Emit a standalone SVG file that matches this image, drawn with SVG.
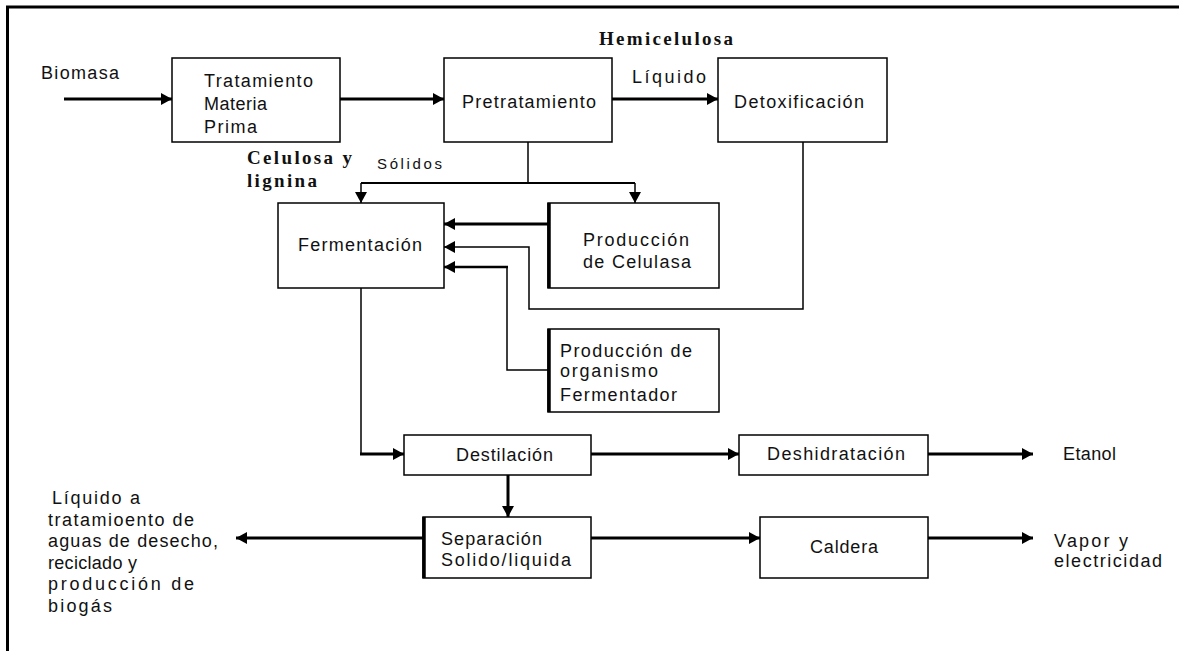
<svg xmlns="http://www.w3.org/2000/svg" width="1179" height="651" viewBox="0 0 1179 651">
<style>
.box{fill:#fff;stroke:#000;stroke-width:1.5}
.t{font-family:"Liberation Sans",Arial,sans-serif;font-size:18px;fill:#111}
.b{font-family:"Liberation Serif","Times New Roman",serif;font-size:19px;font-weight:bold;fill:#111}
.thick{fill:none;stroke:#000;stroke-width:3}
.thin{fill:none;stroke:#000;stroke-width:1.5}
.edge{stroke:#000;stroke-width:3.5}
</style>
<defs>
<marker id="ah" markerUnits="userSpaceOnUse" markerWidth="12" markerHeight="12" refX="11" refY="6" orient="auto">
<path d="M0,0 L11,6 L0,12 z" fill="#000"/>
</marker>
</defs>
<rect width="1179" height="651" fill="#fff"/>
<g id="frame">
<line x1="6" y1="7" x2="1179" y2="7" stroke="#000" stroke-width="3"/>
<line x1="7.5" y1="6" x2="7.5" y2="651" stroke="#000" stroke-width="3"/>
</g>
<g id="connectors">
<line class="thick" x1="64" y1="99" x2="172" y2="99" marker-end="url(#ah)"/>
<line class="thick" x1="340" y1="99" x2="444" y2="99" marker-end="url(#ah)"/>
<line class="thick" x1="612" y1="99" x2="718" y2="99" marker-end="url(#ah)"/>
<line class="thin" x1="528" y1="142" x2="528" y2="183"/>
<line class="thin" x1="361" y1="183" x2="635" y2="183" style="stroke-width:2"/>
<line class="thin" x1="361" y1="183" x2="361" y2="203" marker-end="url(#ah)"/>
<line class="thin" x1="635" y1="183" x2="635" y2="203" marker-end="url(#ah)"/>
<line class="thick" x1="548" y1="224" x2="444" y2="224" marker-end="url(#ah)"/>
<polyline class="thin" points="803,142 803,309 529,309 529,247 444,247" marker-end="url(#ah)"/>
<polyline class="thin" points="548,370 507,370 507,267 470,267"/>
<line class="thick" x1="508" y1="267" x2="444" y2="267" style="stroke-width:2.5" marker-end="url(#ah)"/>
<line class="thin" x1="361" y1="288" x2="361" y2="454"/>
<line class="thick" x1="360" y1="454" x2="404" y2="454" marker-end="url(#ah)"/>
<line class="thick" x1="591" y1="454" x2="739" y2="454" marker-end="url(#ah)"/>
<line class="thick" x1="928" y1="454" x2="1033" y2="454" marker-end="url(#ah)"/>
<line class="thick" x1="508" y1="475" x2="508" y2="517" marker-end="url(#ah)"/>
<line class="thick" x1="423" y1="538" x2="236" y2="538" marker-end="url(#ah)"/>
<line class="thick" x1="591" y1="538" x2="760" y2="538" marker-end="url(#ah)"/>
<line class="thick" x1="928" y1="538" x2="1033" y2="538" marker-end="url(#ah)"/>
</g>
<g id="labels">
<text class="t" x="41" y="79" textLength="78">Biomasa</text>
<text class="b" x="599" y="45" textLength="134">Hemicelulosa</text>
<text class="t" x="632" y="83" textLength="74">Líquido</text>
<text class="b" x="247" y="164" textLength="105">Celulosa y</text>
<text class="b" x="247" y="187" textLength="70">lignina</text>
<text class="t" x="377" y="169" textLength="65" style="font-size:15px">Sólidos</text>
<text class="t" x="1063" y="460" textLength="53">Etanol</text>
<text class="t" x="1054" y="547" textLength="74">Vapor y</text>
<text class="t" x="1054" y="567" textLength="108">electricidad</text>
<text class="t" x="52" y="504" textLength="88">Líquido a</text>
<text class="t" x="48" y="525.6" textLength="146">tratamioento de</text>
<text class="t" x="48" y="547" textLength="170">aguas de desecho,</text>
<text class="t" x="48" y="568.8" textLength="89">reciclado y</text>
<text class="t" x="48" y="590.4" textLength="146">producción de</text>
<text class="t" x="48" y="612" textLength="64">biogás</text>
</g>
<g id="tratamiento">
<rect class="box" x="172" y="58" width="168" height="84"/>
<text class="t" x="204" y="87" textLength="109">Tratamiento</text>
<text class="t" x="204" y="110" textLength="63">Materia</text>
<text class="t" x="204" y="133" textLength="53">Prima</text>
</g>
<g id="pretratamiento">
<rect class="box" x="444" y="58" width="168" height="84"/>
<text class="t" x="462" y="108" textLength="134">Pretratamiento</text>
</g>
<g id="detoxificacion">
<rect class="box" x="718" y="58" width="169" height="84"/>
<text class="t" x="734" y="108" textLength="130">Detoxificación</text>
</g>
<g id="fermentacion">
<rect class="box" x="278" y="203" width="166" height="85"/>
<text class="t" x="298" y="251" textLength="124">Fermentación</text>
</g>
<g id="celulasa">
<rect class="box" x="548" y="203" width="171" height="85"/>
<line class="edge" x1="549" y1="203" x2="549" y2="288"/>
<text class="t" x="583" y="246" textLength="106">Producción</text>
<text class="t" x="583" y="268" textLength="108">de Celulasa</text>
</g>
<g id="organismo">
<rect class="box" x="548" y="329" width="171" height="83"/>
<line class="edge" x1="549" y1="329" x2="549" y2="412"/>
<text class="t" x="560" y="357" textLength="132">Producción de</text>
<text class="t" x="560" y="377" textLength="98">organismo</text>
<text class="t" x="560" y="401" textLength="117">Fermentador</text>
</g>
<g id="destilacion">
<rect class="box" x="404" y="435" width="187" height="40"/>
<text class="t" x="456" y="461" textLength="97">Destilación</text>
</g>
<g id="deshidratacion">
<rect class="box" x="739" y="435" width="189" height="40"/>
<text class="t" x="767" y="460" textLength="138">Deshidratación</text>
</g>
<g id="separacion">
<rect class="box" x="423" y="517" width="168" height="61"/>
<line class="edge" x1="424" y1="517" x2="424" y2="578"/>
<text class="t" x="441" y="545" textLength="101">Separación</text>
<text class="t" x="441" y="566" textLength="130">Solido/liquida</text>
</g>
<g id="caldera">
<rect class="box" x="760" y="517" width="168" height="61"/>
<text class="t" x="810" y="553" textLength="68">Caldera</text>
</g>
</svg>
